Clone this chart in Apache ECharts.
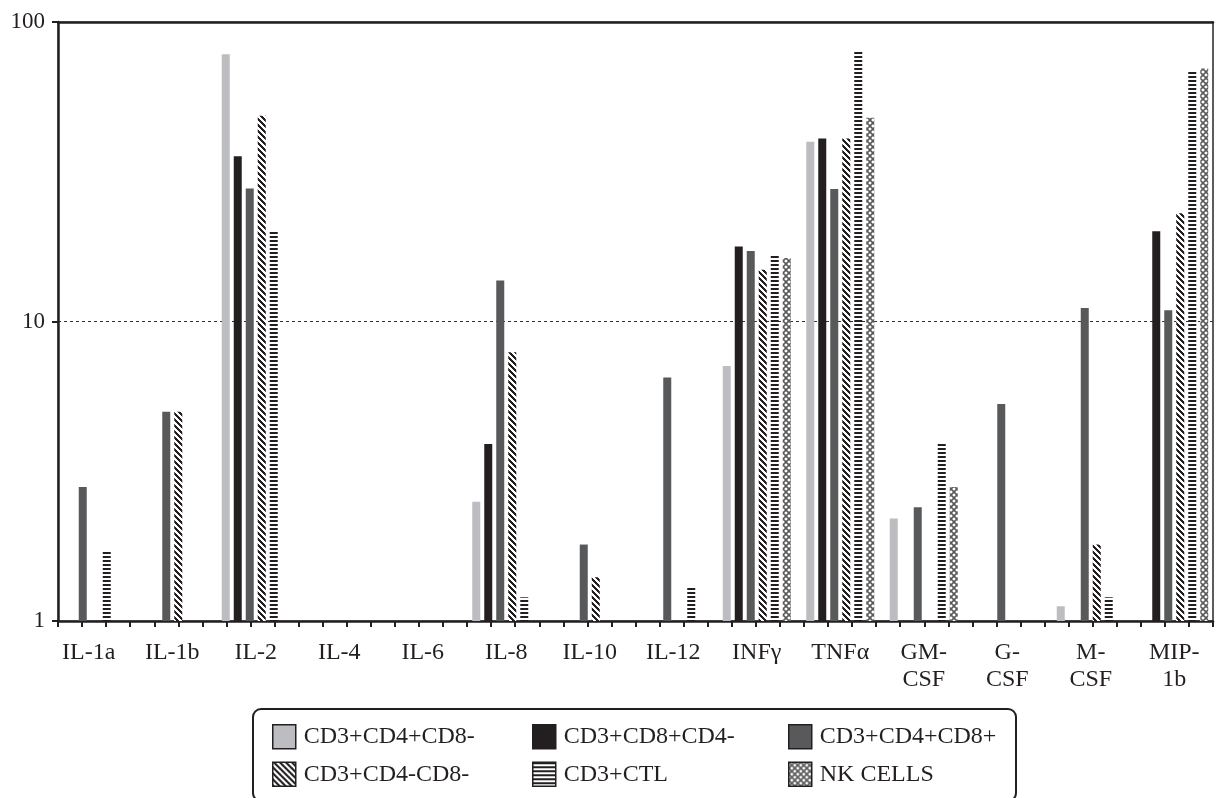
<!DOCTYPE html>
<html>
<head>
<meta charset="utf-8">
<title>Cytokine chart</title>
<script src="https://cdn.jsdelivr.net/npm/echarts@6/dist/echarts.min.js"></script>
<style>
html,body{margin:0;padding:0;background:#fff;}
#cytoChart{width:1216px;height:798px;}
</style>
</head>
<body>
<div id="cytoChart"></div>
<script>
var categories = ['IL-1a','IL-1b','IL-2','IL-4','IL-6','IL-8','IL-10','IL-12','INFγ','TNFα','GM-\nCSF','G-\nCSF','M-\nCSF','MIP-\n1b'];
var seriesNames = ['CD3+CD4+CD8-','CD3+CD8+CD4-','CD3+CD4+CD8+','CD3+CD4-CD8-','CD3+CTL','NK CELLS'];

// null = no bar drawn
var cd4List = [null,null,78,null,null,2.5,null,null,7.1,39.8,2.2,null,1.12,null];
var cd8List = [null,null,35.6,null,null,3.9,null,null,17.8,40.8,null,null,null,20.0];
var dpList  = [2.8,5.0,27.8,null,null,13.7,1.8,6.5,17.2,27.7,2.4,5.3,11.1,10.9];
var dnList  = [null,5.0,48.6,null,null,7.9,1.4,null,14.9,40.8,null,null,1.8,23.0];
var ctlList = [1.7,null,20.2,null,null,1.2,null,1.3,16.6,80,3.95,null,1.2,68.7];
var nkList  = [null,null,null,null,null,null,null,null,16.3,47.9,2.8,null,null,69.9];

var yTicks = [1,10,100];
var frameTicks = 48;

var ink = '#231f20';

function makeTile(w,h,draw){
	var c = document.createElement('canvas');
	c.width = w; c.height = h;
	var ctx = c.getContext('2d');
	ctx.fillStyle = '#fff';
	ctx.fillRect(0,0,w,h);
	draw(ctx);
	return {image:c, repeat:'repeat'};
}

var diagFill = makeTile(6,6,function(ctx){
	ctx.fillStyle = ink;
	for(var y=0;y<6;y++){
		for(var x=0;x<6;x++){
			if((((x-y)%6)+6)%6 < 3){ ctx.fillRect(x,y,1,1); }
		}
	}
});
var stripeFill = makeTile(4,4,function(ctx){
	ctx.fillStyle = ink;
	ctx.fillRect(0,0,4,2);
});
var nkFill = makeTile(6,6,function(ctx){
	ctx.strokeStyle = '#5a5a5a';
	ctx.lineWidth = 1.6;
	ctx.beginPath();
	ctx.moveTo(0,0); ctx.lineTo(6,6);
	ctx.moveTo(6,0); ctx.lineTo(0,6);
	ctx.stroke();
});

var fills = ['#bcbdc0', ink, '#58595b', diagFill, stripeFill, nkFill];
var lists = [cd4List, cd8List, dpList, dnList, ctlList, nkList];

var series = [];
for(var i=0;i<lists.length;i++){
	series.push({
		name: seriesNames[i],
		type: 'bar',
		xAxisIndex: 0,
		yAxisIndex: 0,
		barWidth: 8,
		barGap: '50%',
		itemStyle: {color: fills[i]},
		data: lists[i]
	});
}

var legendBase = {
	orient: 'vertical',
	top: 719,
	icon: 'rect',
	itemWidth: 23,
	itemHeight: 24,
	itemGap: 12,
	textStyle: {fontSize: 24, color: ink, fontFamily: 'Liberation Serif', padding: [0,0,0,3]},
	itemStyle: {borderColor: ink, borderWidth: 1.5}
};
function legendCol(left, names){
	var l = {};
	for(var p in legendBase){ l[p] = legendBase[p]; }
	l.left = left;
	l.data = names;
	return l;
}

var option = {
	animation: false,
	backgroundColor: '#fff',
	textStyle: {fontFamily: 'Liberation Serif', color: ink},
	grid: [
		{left: 47, width: 1182, top: 22, bottom: 177},
		{left: 58, right: 3, top: 22, bottom: 177, show: true, borderColor: '#444', borderWidth: 1}
	],
	legend: [
		legendCol(267, [seriesNames[0], seriesNames[3]]),
		legendCol(527, [seriesNames[1], seriesNames[4]]),
		legendCol(783, [seriesNames[2], seriesNames[5]])
	],
	graphic: [{
		type: 'rect',
		shape: {x: 253, y: 709, width: 763, height: 92, r: 8},
		style: {fill: 'none', stroke: ink, lineWidth: 2}
	}],
	xAxis: [
		{
			gridIndex: 0,
			type: 'category',
			data: categories,
			axisLine: {show: false},
			axisTick: {show: false},
			axisLabel: {interval: 0, fontSize: 24, lineHeight: 27, color: ink, margin: 18}
		},
		{
			// frame axis: line plus the fine ticks along the bottom
			gridIndex: 1,
			type: 'value',
			min: 0, max: frameTicks, interval: 1,
			axisLine: {show: true, onZero: false, lineStyle: {color: ink, width: 2.5}},
			axisTick: {show: true, length: 6, lineStyle: {color: ink, width: 2}},
			axisLabel: {show: false},
			splitLine: {show: false}
		},
		{
			gridIndex: 1,
			type: 'value',
			position: 'top',
			min: 0, max: 1,
			axisLine: {show: true, onZero: false, lineStyle: {color: ink, width: 2.5}},
			axisTick: {show: false},
			axisLabel: {show: false},
			splitLine: {show: false}
		}
	],
	yAxis: [
		{
			gridIndex: 0,
			type: 'log',
			logBase: 10,
			min: yTicks[0], max: yTicks[yTicks.length-1],
			show: false
		},
		{
			gridIndex: 1,
			type: 'log',
			logBase: 10,
			min: yTicks[0], max: yTicks[yTicks.length-1],
			axisLine: {show: true, onZero: false, lineStyle: {color: ink, width: 2.5}},
			axisTick: {show: true, length: 6, lineStyle: {color: ink, width: 2}},
			axisLabel: {fontSize: 23, color: ink, margin: 13},
			splitLine: {show: true, lineStyle: {color: '#333', width: 1, type: [3,3]}},
			minorTick: {show: false}
		},
		{
			gridIndex: 1,
			type: 'value',
			position: 'right',
			min: 0, max: 1,
			axisLine: {show: true, onZero: false, lineStyle: {color: '#444', width: 1.5}},
			axisTick: {show: false},
			axisLabel: {show: false},
			splitLine: {show: false}
		}
	],
	series: series
};

var cytoChart = echarts.init(document.getElementById('cytoChart'));
cytoChart.setOption(option);
window.onresize = function(){ cytoChart.resize(); };
</script>
</body>
</html>
